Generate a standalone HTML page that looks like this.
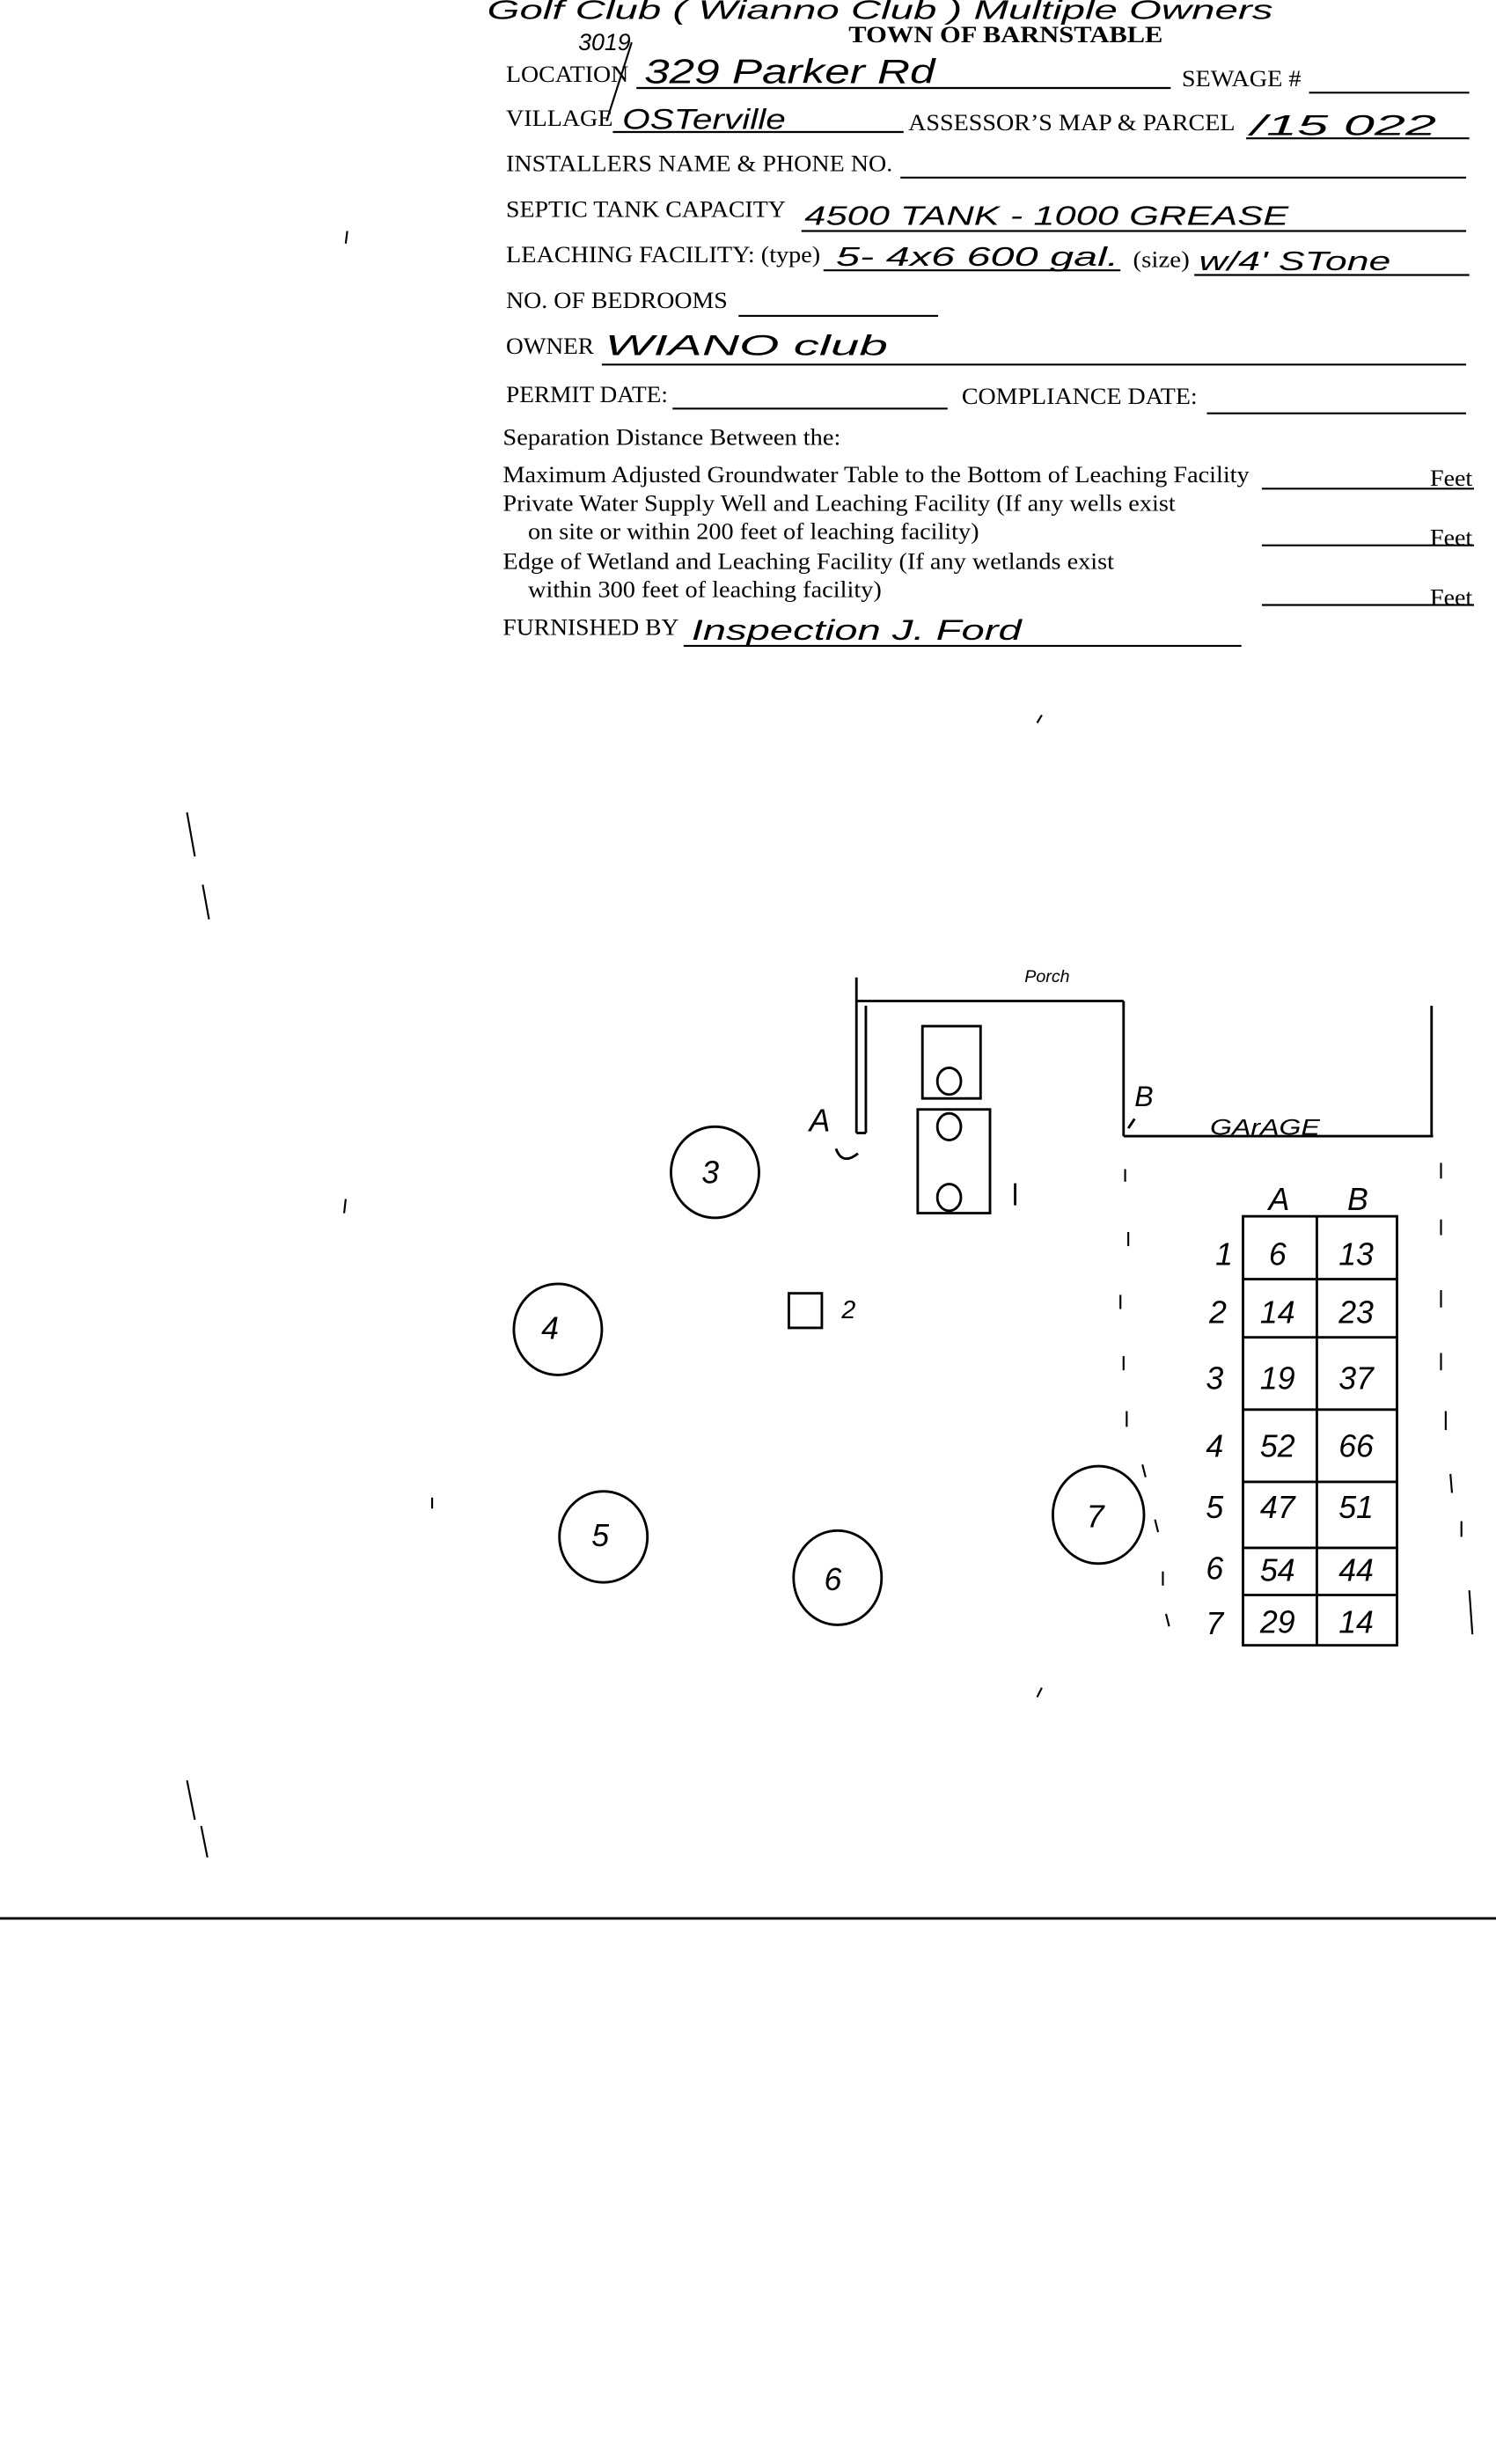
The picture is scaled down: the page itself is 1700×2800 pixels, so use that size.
<!DOCTYPE html>
<html><head><meta charset="utf-8"><style>
html,body{margin:0;padding:0;background:#fff;}
svg{display:block}
.t{font-family:"Liberation Serif",serif;font-size:14.5px;fill:#000}
.h{font-family:"Liberation Sans",sans-serif;font-style:italic;fill:#000}
</style></head><body>
<svg width="1700" height="2800" viewBox="0 0 952 1568" xmlns="http://www.w3.org/2000/svg">
<rect width="952" height="1568" fill="#fff"/>
<!-- handwritten top -->
<text class="h" x="310" y="12" font-size="17" textLength="500" lengthAdjust="spacingAndGlyphs">Golf  Club ( Wianno Club )  Multiple Owners</text>
<text class="h" x="368" y="32" font-size="15">3019</text>
<text class="t" x="540" y="27" font-weight="bold" font-size="15" textLength="200" lengthAdjust="spacingAndGlyphs">TOWN OF BARNSTABLE</text>
<g stroke="#000" stroke-width="1.2" fill="none">
<line x1="405" y1="56" x2="745" y2="56"/>
<line x1="833" y1="59" x2="935" y2="59"/>
<line x1="390" y1="84" x2="575" y2="84"/>
<line x1="793" y1="88" x2="935" y2="88"/>
<line x1="573" y1="113" x2="933" y2="113"/>
<line x1="510" y1="147" x2="933" y2="147"/>
<line x1="524" y1="172" x2="713" y2="172"/>
<line x1="760" y1="175" x2="935" y2="175"/>
<line x1="470" y1="201" x2="597" y2="201"/>
<line x1="383" y1="232" x2="933" y2="232"/>
<line x1="428" y1="260" x2="603" y2="260"/>
<line x1="768" y1="263" x2="933" y2="263"/>
<line x1="803" y1="311" x2="938" y2="311"/>
<line x1="803" y1="347" x2="938" y2="347"/>
<line x1="803" y1="385" x2="938" y2="385"/>
<line x1="435" y1="411" x2="790" y2="411"/>
<line x1="402" y1="27" x2="386" y2="77"/>
</g>
<text class="t" x="322" y="52" textLength="78" lengthAdjust="spacingAndGlyphs">LOCATION</text>
<text class="t" x="752" y="55" textLength="76" lengthAdjust="spacingAndGlyphs">SEWAGE #</text>
<text class="t" x="322" y="80" textLength="68" lengthAdjust="spacingAndGlyphs">VILLAGE</text>
<text class="t" x="578" y="83" textLength="208" lengthAdjust="spacingAndGlyphs">ASSESSOR’S MAP &amp; PARCEL</text>
<text class="t" x="322" y="109" textLength="246" lengthAdjust="spacingAndGlyphs">INSTALLERS NAME &amp; PHONE NO.</text>
<text class="t" x="322" y="138" textLength="178" lengthAdjust="spacingAndGlyphs">SEPTIC TANK CAPACITY</text>
<text class="t" x="322" y="167" textLength="200" lengthAdjust="spacingAndGlyphs">LEACHING FACILITY: (type)</text>
<text class="t" x="721" y="170" textLength="36" lengthAdjust="spacingAndGlyphs">(size)</text>
<text class="t" x="322" y="196" textLength="141" lengthAdjust="spacingAndGlyphs">NO. OF BEDROOMS</text>
<text class="t" x="322" y="225" textLength="56" lengthAdjust="spacingAndGlyphs">OWNER</text>
<text class="t" x="322" y="256" textLength="103" lengthAdjust="spacingAndGlyphs">PERMIT DATE:</text>
<text class="t" x="612" y="257" textLength="150" lengthAdjust="spacingAndGlyphs">COMPLIANCE DATE:</text>
<text class="t" x="320" y="283" textLength="215" lengthAdjust="spacingAndGlyphs">Separation Distance Between the:</text>
<text class="t" x="320" y="307" textLength="475" lengthAdjust="spacingAndGlyphs">Maximum Adjusted Groundwater Table to the Bottom of Leaching Facility</text>
<text class="t" x="320" y="325" textLength="428" lengthAdjust="spacingAndGlyphs">Private Water Supply Well and Leaching Facility (If any wells exist</text>
<text class="t" x="336" y="343" textLength="287" lengthAdjust="spacingAndGlyphs">on site or within 200 feet of leaching facility)</text>
<text class="t" x="320" y="362" textLength="389" lengthAdjust="spacingAndGlyphs">Edge of Wetland and Leaching Facility (If any wetlands exist</text>
<text class="t" x="336" y="380" textLength="225" lengthAdjust="spacingAndGlyphs">within 300 feet of leaching facility)</text>
<text class="t" x="320" y="404" textLength="112" lengthAdjust="spacingAndGlyphs">FURNISHED BY</text>
<text class="t" x="910" y="309" textLength="27" lengthAdjust="spacingAndGlyphs">Feet</text>
<text class="t" x="910" y="347" textLength="27" lengthAdjust="spacingAndGlyphs">Feet</text>
<text class="t" x="910" y="385" textLength="27" lengthAdjust="spacingAndGlyphs">Feet</text>
<!-- handwriting -->
<text class="h" x="410" y="53" font-size="22" textLength="185" lengthAdjust="spacingAndGlyphs">329  Parker  Rd</text>
<text class="h" x="396" y="82" font-size="18" textLength="104" lengthAdjust="spacingAndGlyphs">OSTerville</text>
<text class="h" x="796" y="86" font-size="18" textLength="118" lengthAdjust="spacingAndGlyphs">/15   022</text>
<text class="h" x="512" y="143" font-size="17" textLength="308" lengthAdjust="spacingAndGlyphs">4500  TANK  -   1000  GREASE</text>
<text class="h" x="532" y="169" font-size="17" textLength="180" lengthAdjust="spacingAndGlyphs">5-  4x6  600 gal.</text>
<text class="h" x="763" y="172" font-size="17" textLength="122" lengthAdjust="spacingAndGlyphs">w/4' STone</text>
<text class="h" x="385" y="226" font-size="18" textLength="180" lengthAdjust="spacingAndGlyphs">WIANO    club</text>
<text class="h" x="440" y="407" font-size="18" textLength="210" lengthAdjust="spacingAndGlyphs">Inspection   J. Ford</text>
<!-- diagram -->
<g stroke="#000" stroke-width="1.6" fill="none">
<line x1="545" y1="622" x2="545" y2="721"/>
<line x1="551" y1="640" x2="551" y2="721"/>
<line x1="545" y1="721" x2="551" y2="721"/>
<line x1="545" y1="637" x2="715" y2="637"/>
<line x1="715" y1="637" x2="715" y2="723"/>
<line x1="715" y1="723" x2="912" y2="723"/>
<line x1="911" y1="640" x2="911" y2="723"/>
<path d="M532 731 Q536 742 546 734"/>
<line x1="722" y1="712" x2="718" y2="718"/>
<rect x="587" y="653" width="37" height="46"/>
<rect x="584" y="706" width="46" height="66"/>
<ellipse cx="604" cy="688" rx="7.5" ry="8.5"/>
<ellipse cx="604" cy="717" rx="7.5" ry="8.5"/>
<ellipse cx="604" cy="762" rx="7.5" ry="8.5"/>
<line x1="646" y1="753" x2="646" y2="767"/>
<ellipse cx="455" cy="746" rx="28" ry="29"/>
<ellipse cx="355" cy="846" rx="28" ry="29"/>
<rect x="502" y="823" width="21" height="22"/>
<ellipse cx="384" cy="978" rx="28" ry="29"/>
<ellipse cx="533" cy="1004" rx="28" ry="30"/>
<ellipse cx="699" cy="964" rx="29" ry="31"/>
<rect x="791" y="774" width="98" height="273"/>
<line x1="838" y1="774" x2="838" y2="1047"/>
<line x1="791" y1="814" x2="889" y2="814"/>
<line x1="791" y1="851" x2="889" y2="851"/>
<line x1="791" y1="897" x2="889" y2="897"/>
<line x1="791" y1="943" x2="889" y2="943"/>
<line x1="791" y1="985" x2="889" y2="985"/>
<line x1="791" y1="1015" x2="889" y2="1015"/>
</g>
<g stroke="#000" stroke-width="1.2">
<line x1="716" y1="744" x2="716" y2="752"/><line x1="718" y1="784" x2="718" y2="793"/>
<line x1="713" y1="824" x2="713" y2="833"/><line x1="715" y1="863" x2="715" y2="872"/>
<line x1="717" y1="898" x2="717" y2="908"/><line x1="727" y1="932" x2="729" y2="940"/>
<line x1="735" y1="967" x2="737" y2="975"/><line x1="740" y1="1000" x2="740" y2="1009"/>
<line x1="742" y1="1027" x2="744" y2="1035"/>
<line x1="917" y1="740" x2="917" y2="750"/><line x1="917" y1="776" x2="917" y2="786"/>
<line x1="917" y1="821" x2="917" y2="832"/><line x1="917" y1="861" x2="917" y2="872"/>
<line x1="920" y1="898" x2="920" y2="910"/><line x1="923" y1="938" x2="924" y2="950"/>
<line x1="930" y1="968" x2="930" y2="978"/><line x1="935" y1="1012" x2="937" y2="1040"/>
<line x1="119" y1="517" x2="124" y2="545"/><line x1="129" y1="563" x2="133" y2="585"/>
<line x1="119" y1="1133" x2="124" y2="1158"/><line x1="128" y1="1162" x2="132" y2="1182"/>
<line x1="221" y1="147" x2="220" y2="155"/><line x1="220" y1="763" x2="219" y2="772"/>
<line x1="275" y1="953" x2="275" y2="960"/><line x1="660" y1="460" x2="663" y2="455"/>
<line x1="660" y1="1080" x2="663" y2="1074"/>
</g>
<text class="h" x="652" y="625" font-size="11">Porch</text>
<text class="h" x="515" y="720" font-size="20">A</text>
<text class="h" x="722" y="704" font-size="18">B</text>
<text class="h" x="770" y="722" font-size="14" textLength="70" lengthAdjust="spacingAndGlyphs">GArAGE</text>
<g class="h" font-size="20" text-anchor="middle">
<text x="452" y="753">3</text><text x="350" y="852">4</text><text x="382" y="984">5</text>
<text x="530" y="1012">6</text><text x="697" y="972">7</text>
<text x="540" y="839" font-size="16">2</text>
<text x="814" y="770">A</text><text x="864" y="770">B</text>
<g font-size="20">
<text x="779" y="805">1</text><text x="775" y="842">2</text><text x="773" y="884">3</text><text x="773" y="927">4</text>
<text x="773" y="966">5</text><text x="773" y="1005">6</text><text x="773" y="1040">7</text>
<text x="813" y="805">6</text><text x="863" y="805">13</text>
<text x="813" y="842">14</text><text x="863" y="842">23</text>
<text x="813" y="884">19</text><text x="863" y="884">37</text>
<text x="813" y="927">52</text><text x="863" y="927">66</text>
<text x="813" y="966">47</text><text x="863" y="966">51</text>
<text x="813" y="1006">54</text><text x="863" y="1006">44</text>
<text x="813" y="1039">29</text><text x="863" y="1039">14</text>
</g>
</g>
<rect x="0" y="1220" width="952" height="1.6" fill="#000"/>
</svg>
</body></html>
